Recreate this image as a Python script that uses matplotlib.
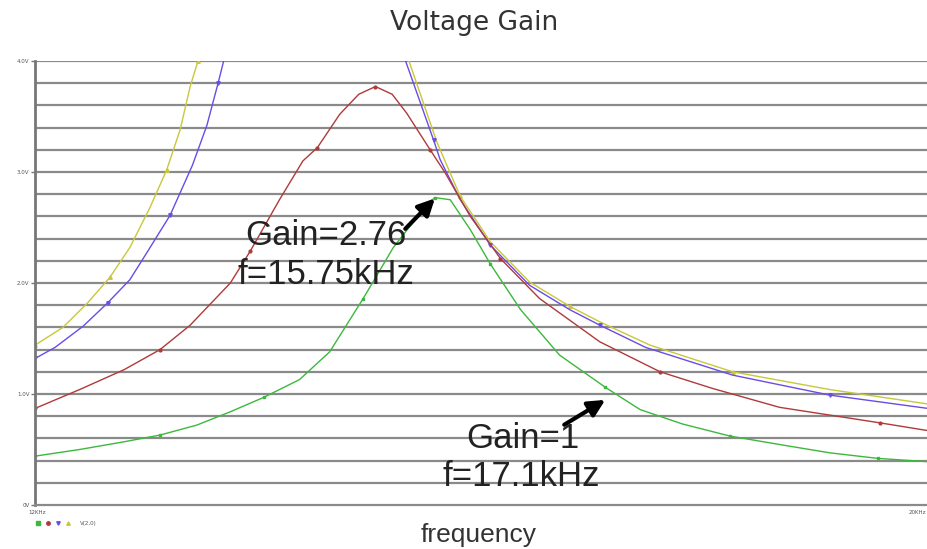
import numpy as np
import matplotlib.pyplot as plt

# frequency in kHz, gain in volts
f_green = [12.00, 12.40, 12.80, 13.12, 13.45, 13.75, 14.05, 14.37, 14.64, 14.94, 15.21, 15.42, 15.58,
           15.72, 15.90, 16.08, 16.35, 16.70, 17.11, 17.42, 17.80, 18.23, 18.70, 19.12, 19.55, 20.00]
v_green = [0.44, 0.50, 0.57, 0.63, 0.72, 0.84, 0.97, 1.13, 1.38, 1.86, 2.32, 2.59, 2.77,
           2.75, 2.48, 2.17, 1.76, 1.35, 1.06, 0.86, 0.73, 0.62, 0.54, 0.47, 0.42, 0.39]

f_red = [12.00, 12.40, 12.80, 13.12, 13.39, 13.75, 13.93, 14.19, 14.40, 14.53, 14.73, 14.90, 15.05,
         15.20, 15.33, 15.54, 15.67, 15.90, 16.17, 16.52, 17.06, 17.60, 18.07, 18.67, 19.57, 20.00]
v_red = [0.87, 1.04, 1.22, 1.40, 1.62, 2.00, 2.29, 2.75, 3.10, 3.22, 3.52, 3.70, 3.77,
         3.70, 3.53, 3.20, 3.00, 2.60, 2.22, 1.86, 1.47, 1.20, 1.05, 0.88, 0.74, 0.67]

f_blue = [12.00, 12.18, 12.43, 12.65, 12.85, 13.00, 13.21, 13.41, 13.54, 13.64, 13.69, 13.72, np.nan,
          15.30, 15.32, 15.57, 15.63, 15.81, 16.08, 16.43, 16.79, 17.06, 17.47, 18.25, 19.12, 20.00]
v_blue = [1.32, 1.42, 1.61, 1.82, 2.03, 2.27, 2.61, 3.06, 3.42, 3.80, 4.00, 4.20, np.nan,
          4.20, 4.00, 3.29, 3.11, 2.75, 2.34, 1.98, 1.76, 1.62, 1.42, 1.17, 0.99, 0.87]

f_yellow = [12.00, 12.25, 12.47, 12.67, 12.85, 13.03, 13.18, 13.30, 13.39, 13.46, 13.49, np.nan,
            15.33, 15.35, 15.60, 15.81, 16.08, 16.43, 16.79, 17.06, 17.51, 18.25, 19.12, 20.00]
v_yellow = [1.44, 1.60, 1.82, 2.05, 2.32, 2.68, 3.02, 3.38, 3.77, 4.00, 4.20, np.nan,
            4.20, 4.00, 3.27, 2.78, 2.37, 2.01, 1.79, 1.65, 1.44, 1.20, 1.04, 0.91]

y_ticks = [0, 1, 2, 3, 4]
y_labels = ['0V', '1.0V', '2.0V', '3.0V', '4.0V']

fig = plt.figure(figsize=(9.28, 5.49), dpi=100)
ax = fig.add_axes([35 / 928, 44 / 549, 893 / 928, 444 / 549])

ax.plot(f_yellow, v_yellow, color='#c8c83a', lw=1, marker='^', ms=2.5, markevery=3)
ax.plot(f_blue, v_blue, color='#6a4ce6', lw=1, marker='v', ms=2.5, markevery=3)
ax.plot(f_red, v_red, color='#b03a3a', lw=1, marker='o', ms=2, markevery=3)
ax.plot(f_green, v_green, color='#3cb83c', lw=1, marker='s', ms=2, markevery=3)

ax.set_xlim(12, 20)
ax.set_ylim(0, 4)
for y in np.arange(0.2, 4.01, 0.2):
    ax.axhline(y, color='#8a8a8a', lw=1.6, zorder=0)

ax.set_yticks(y_ticks)
ax.set_yticklabels(y_labels, fontsize=4, color='#555555')
ax.tick_params(axis='y', length=3, width=1, color='#777777', pad=1)
ax.set_xticks([])
for s in ['top', 'right']:
    ax.spines[s].set_visible(False)
ax.spines['left'].set_color('#777777')
ax.spines['left'].set_linewidth(2)
ax.spines['bottom'].set_color('#8a8a8a')
ax.spines['bottom'].set_linewidth(1.6)

# x end labels and legend row
fig.text(28 / 928, 1 - 513 / 549, '12KHz', fontsize=4, color='#555555', va='center')
fig.text(926 / 928, 1 - 513 / 549, '20KHz', fontsize=4, color='#555555', va='center', ha='right')
leg_cols = ['#3cb83c', '#b03a3a', '#6a4ce6', '#c8c83a']
leg_mk = ['s', 'o', 'v', '^']
for i, (c, m) in enumerate(zip(leg_cols, leg_mk)):
    fig.lines.append(plt.Line2D([(38 + 10 * i) / 928], [1 - 523 / 549], marker=m, ms=2.5,
                                color=c, transform=fig.transFigure))
fig.text(80 / 928, 1 - 523 / 549, 'V(2,0)', fontsize=4, color='#555555', va='center')

fig.text(474 / 928, 1 - 23 / 549, 'Voltage Gain', fontsize=19, ha='center', va='center',
         color='#333333')
fig.text(479 / 928, 1 - 535 / 549, 'frequency', fontsize=19, family='Liberation Sans',
         ha='center', va='center', color='#333333')

# annotations
arrow = dict(arrowstyle='-|>,head_length=1.0,head_width=0.5', color='black', lw=3)
ax.annotate('', xy=(15.60, 2.78), xytext=(15.30, 2.47), arrowprops=arrow)
ax.text(13.88, 2.43, 'Gain=2.76', fontsize=25, family='Liberation Sans', va='center', color='#222222')
ax.text(13.81, 2.08, 'f=15.75kHz', fontsize=25, family='Liberation Sans', va='center', color='#222222')
ax.annotate('', xy=(17.13, 0.96), xytext=(16.72, 0.71), arrowprops=arrow)
ax.text(15.86, 0.60, 'Gain=1', fontsize=25, family='Liberation Sans', va='center', color='#222222')
ax.text(15.65, 0.26, 'f=17.1kHz', fontsize=25, family='Liberation Sans', va='center', color='#222222')

fig.savefig('out.png', dpi=100)
